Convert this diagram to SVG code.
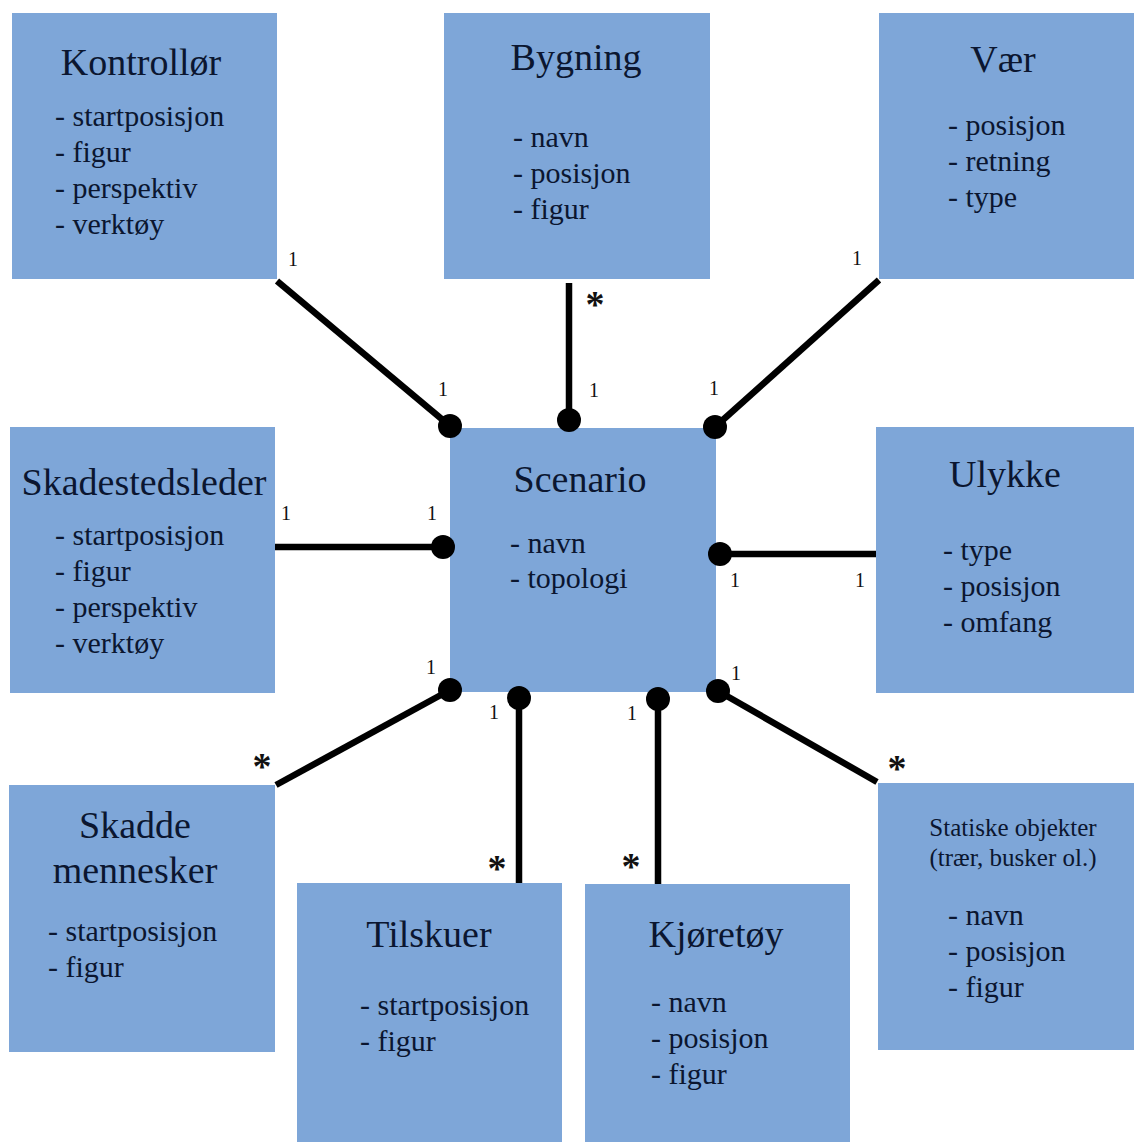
<svg xmlns="http://www.w3.org/2000/svg" width="1134" height="1142" viewBox="0 0 1134 1142">
  <style>
    .box { fill: #7ea6d8; }
    .title { font-family: "Liberation Serif", "Times New Roman", serif; font-size: 38px; fill: #0b1630; text-anchor: middle; }
    .item { font-family: "Liberation Serif", "Times New Roman", serif; font-size: 30px; fill: #0b1630; }
    .small { font-family: "Liberation Serif", "Times New Roman", serif; font-size: 25px; fill: #0b1630; text-anchor: middle; }
    .link { stroke: #000; stroke-width: 6.5; fill: none; }
    .end { fill: #000; }
    .mult { font-family: "Liberation Serif", "Times New Roman", serif; font-size: 20px; fill: #111; text-anchor: middle; }
    .many { font-family: "Liberation Serif", "Times New Roman", serif; font-size: 38px; font-weight: bold; fill: #111; text-anchor: middle; }
  </style>
  <rect width="1134" height="1142" fill="#ffffff"/>

  <g id="kontrollor">
    <rect class="box" x="12" y="13" width="265" height="266"/>
    <text class="title" x="141" y="75">Kontrollør</text>
    <text class="item" x="55" y="126">- startposisjon</text>
    <text class="item" x="55" y="162">- figur</text>
    <text class="item" x="55" y="198">- perspektiv</text>
    <text class="item" x="55" y="234">- verktøy</text>
  </g>

  <g id="bygning">
    <rect class="box" x="444" y="13" width="266" height="266"/>
    <text class="title" x="576" y="70">Bygning</text>
    <text class="item" x="513" y="147">- navn</text>
    <text class="item" x="513" y="183">- posisjon</text>
    <text class="item" x="513" y="219">- figur</text>
  </g>

  <g id="vaer">
    <rect class="box" x="879" y="13" width="255" height="266"/>
    <text class="title" x="1003" y="72">Vær</text>
    <text class="item" x="948" y="135">- posisjon</text>
    <text class="item" x="948" y="171">- retning</text>
    <text class="item" x="948" y="207">- type</text>
  </g>

  <g id="skadestedsleder">
    <rect class="box" x="10" y="427" width="265" height="266"/>
    <text class="title" x="144" y="495">Skadestedsleder</text>
    <text class="item" x="55" y="545">- startposisjon</text>
    <text class="item" x="55" y="581">- figur</text>
    <text class="item" x="55" y="617">- perspektiv</text>
    <text class="item" x="55" y="653">- verktøy</text>
  </g>

  <g id="scenario">
    <rect class="box" x="450" y="428" width="266" height="264"/>
    <text class="title" x="580" y="492">Scenario</text>
    <text class="item" x="510" y="553">- navn</text>
    <text class="item" x="510" y="588">- topologi</text>
  </g>

  <g id="ulykke">
    <rect class="box" x="876" y="427" width="258" height="266"/>
    <text class="title" x="1005" y="487">Ulykke</text>
    <text class="item" x="943" y="560">- type</text>
    <text class="item" x="943" y="596">- posisjon</text>
    <text class="item" x="943" y="632">- omfang</text>
  </g>

  <g id="skadde-mennesker">
    <rect class="box" x="9" y="785" width="266" height="267"/>
    <text class="title" x="135" y="838">Skadde</text>
    <text class="title" x="135" y="883">mennesker</text>
    <text class="item" x="48" y="941">- startposisjon</text>
    <text class="item" x="48" y="977">- figur</text>
  </g>

  <g id="tilskuer">
    <rect class="box" x="297" y="883" width="265" height="259"/>
    <text class="title" x="429" y="947">Tilskuer</text>
    <text class="item" x="360" y="1015">- startposisjon</text>
    <text class="item" x="360" y="1051">- figur</text>
  </g>

  <g id="kjoretoy">
    <rect class="box" x="585" y="884" width="265" height="258"/>
    <text class="title" x="716" y="947">Kjøretøy</text>
    <text class="item" x="651" y="1012">- navn</text>
    <text class="item" x="651" y="1048">- posisjon</text>
    <text class="item" x="651" y="1084">- figur</text>
  </g>

  <g id="statiske-objekter">
    <rect class="box" x="878" y="783" width="256" height="267"/>
    <text class="small" x="1013" y="836">Statiske objekter</text>
    <text class="small" x="1013" y="866">(trær, busker ol.)</text>
    <text class="item" x="948" y="925">- navn</text>
    <text class="item" x="948" y="961">- posisjon</text>
    <text class="item" x="948" y="997">- figur</text>
  </g>

  <!-- associations between Scenario and the other classes, drawn on top so the end dots stay whole -->
  <g id="connectors">
    <line class="link" x1="277" y1="281" x2="450" y2="426"/>
    <circle class="end" cx="450" cy="426" r="12"/>
    <line class="link" x1="569" y1="283" x2="569" y2="420"/>
    <circle class="end" cx="569" cy="420" r="12"/>
    <line class="link" x1="879" y1="280" x2="715" y2="427"/>
    <circle class="end" cx="715" cy="427" r="12"/>
    <line class="link" x1="275" y1="547" x2="443" y2="547"/>
    <circle class="end" cx="443" cy="547" r="12"/>
    <line class="link" x1="720" y1="554" x2="876" y2="554"/>
    <circle class="end" cx="720" cy="554" r="12"/>
    <line class="link" x1="276" y1="785" x2="450" y2="690"/>
    <circle class="end" cx="450" cy="690" r="12"/>
    <line class="link" x1="519" y1="698" x2="519" y2="883"/>
    <circle class="end" cx="519" cy="698" r="12"/>
    <line class="link" x1="658" y1="699" x2="658" y2="884"/>
    <circle class="end" cx="658" cy="699" r="12"/>
    <line class="link" x1="718" y1="691" x2="877" y2="782"/>
    <circle class="end" cx="718" cy="691" r="12"/>

    <!-- multiplicities -->
    <text class="mult" x="293" y="266">1</text>
    <text class="mult" x="443" y="396">1</text>
    <text class="many" x="595" y="317">*</text>
    <text class="mult" x="594" y="397">1</text>
    <text class="mult" x="857" y="265">1</text>
    <text class="mult" x="714" y="395">1</text>
    <text class="mult" x="286" y="520">1</text>
    <text class="mult" x="432" y="520">1</text>
    <text class="mult" x="735" y="587">1</text>
    <text class="mult" x="860" y="587">1</text>
    <text class="mult" x="431" y="674">1</text>
    <text class="many" x="262" y="779">*</text>
    <text class="mult" x="494" y="719">1</text>
    <text class="many" x="497" y="881">*</text>
    <text class="mult" x="632" y="720">1</text>
    <text class="many" x="631" y="879">*</text>
    <text class="mult" x="736" y="680">1</text>
    <text class="many" x="897" y="781">*</text>
  </g>
</svg>
